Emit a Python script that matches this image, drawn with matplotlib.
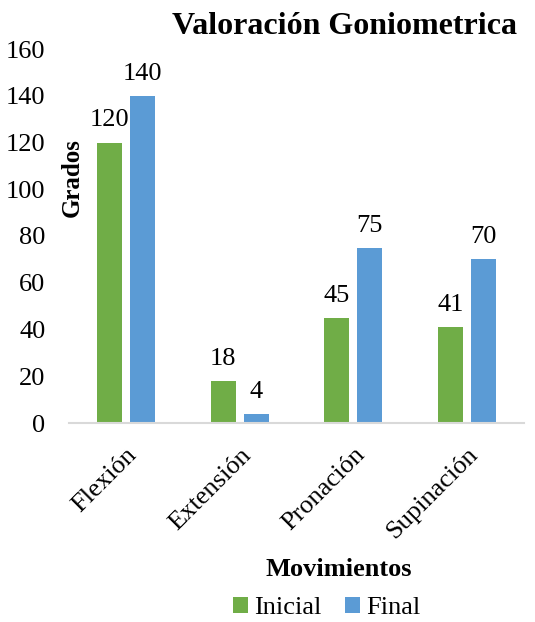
import matplotlib
matplotlib.use("Agg")
import matplotlib.pyplot as plt
import numpy as np

categories = ["Flexión", "Extensión", "Pronación", "Supinación"]
inicial = [120, 18, 45, 41]
final = [140, 4, 75, 70]
series_names = ["Inicial", "Final"]
yticks = [0, 20, 40, 60, 80, 100, 120, 140, 160]

plt.rcParams['font.family'] = ['Liberation Serif', 'DejaVu Serif']

W, H = 535, 622
fig = plt.figure(figsize=(W/100, H/100), dpi=100)
ax = fig.add_axes([69/W, 1-423/H, (524-69)/W, (423-49)/H])

x = np.arange(len(categories))
bw = 0.22
off = 0.145
c_green = "#70AD47"
c_blue = "#5B9BD5"
b1 = ax.bar(x - off, inicial, bw, color=c_green, label=series_names[0])
b2 = ax.bar(x + off, final, bw, color=c_blue, label=series_names[1])

for bars, vals in ((b1, inicial), (b2, final)):
    for b, v in zip(bars, vals):
        ax.annotate(str(v), (b.get_x() + b.get_width()/2, v), xytext=(0, 8),
                    textcoords="offset points", ha="center", va="bottom", fontsize=19)

ax.set_xlim(-0.5, len(categories) - 0.5)
ax.set_ylim(0, 160)
ax.set_yticks(yticks)
ax.set_yticklabels([str(t) for t in yticks], fontsize=19)
ax.set_xticks(x)
ax.set_xticklabels(categories, rotation=45, ha="right", rotation_mode="anchor", fontsize=19)
ax.tick_params(axis='both', length=0)
ax.tick_params(axis='y', pad=17)
ax.tick_params(axis='x', pad=15)
for s in ["top", "right", "left"]:
    ax.spines[s].set_visible(False)
ax.spines["bottom"].set_color("#D9D9D9")
ax.spines["bottom"].set_linewidth(1.5)

fig.text(345/W, 1-27/H, "Valoración Goniometrica", ha="center", va="center",
         fontsize=23, fontweight="bold")
fig.text(72/W, 1-178/H, "Grados", ha="center", va="center", rotation=90,
         fontsize=18, fontweight="bold")
fig.text(339/W, 1-570/H, "Movimientos", ha="center", va="center",
         fontsize=19, fontweight="bold")

fig.legend(handles=[b1, b2], labels=series_names, loc="center", bbox_to_anchor=(327/W, 1-608/H),
           ncol=2, frameon=False, fontsize=19, handlelength=0.55, handleheight=0.55,
           handletextpad=0.25, columnspacing=0.9)

fig.savefig("out.png", dpi=100)
